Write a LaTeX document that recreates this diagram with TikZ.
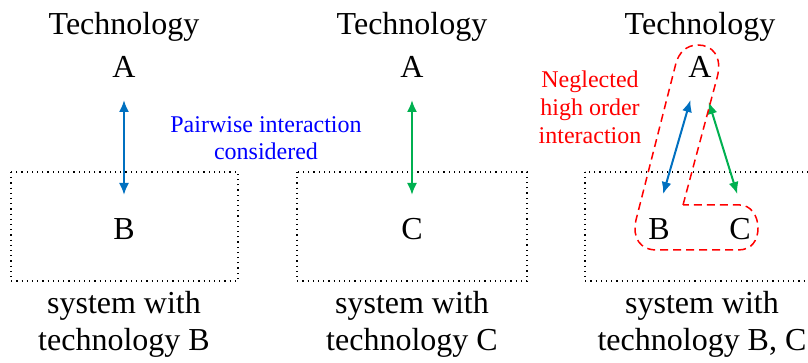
\documentclass[tikz,border=0pt]{standalone}
\usepackage{fontspec}
\setmainfont{Liberation Serif}
\usepackage{tikz}
\usepackage{xcolor}
\usetikzlibrary{arrows.meta, positioning}
\definecolor{linkblue}{HTML}{0070C0}
\definecolor{linkgreen}{HTML}{00B050}

\begin{document}
\begin{tikzpicture}[x=0.5pt, y=-0.5pt,
    big/.style={font=\fontsize{16}{18.5}\selectfont, inner sep=0pt, align=center},
    note/.style={font=\fontsize{12}{13.5}\selectfont, inner sep=0pt, align=center},
    sysbox/.style={draw, dotted, line width=0.6pt},
    link/.style={{Latex[length=6pt,width=5pt]}-{Latex[length=6pt,width=5pt]}, line width=1pt},
    neglect/.style={draw=red, dash pattern=on 4pt off 2.5pt, line width=0.75pt}]
\useasboundingbox (0,0) rectangle (808,363);
\clip (0,0) rectangle (808,363);
%
\draw[sysbox] (11,172) rectangle (238,281);
\draw[sysbox] (297,172) rectangle (527,281);
\draw[sysbox] (585,172) rectangle (840,281);
%
\node[big] (tech1) at (124,27) {Technology};
\node[big] (a1)    at (124,67) {A};
\node[big] (b1)    at (124,229) {B};
\node[big] (sys1)  at (124,324) {system with\\technology B};

\node[big] (tech2) at (412,27) {Technology};
\node[big] (a2)    at (412,67) {A};
\node[big] (c2)    at (412,229) {C};
\node[big] (sys2)  at (412,324) {system with\\technology C};

\node[big] (tech3) at (700,27) {Technology};
\node[big] (a3)    at (700,67) {A};
\node[big] (b3)    at (659,229) {B};
\node[big] (c3)    at (740,229) {C};
\node[big] (sys3)  at (702,324) {system with\\technology B, C};
%
\node[note, text=blue] (pairwise) at (266,138) {Pairwise interaction\\considered};
\node[note, text=red, font=\fontsize{12}{14}\selectfont] (neglected) at (590,107) {Neglected\\high order\\interaction};
%
\draw[link, color=linkblue, shorten <=16.5pt, shorten >=17pt] (a1.center) -- (b1.center);
\draw[link, color=linkgreen, shorten <=16.5pt, shorten >=17pt] (a2.center) -- (c2.center);
\draw[link, color=linkblue, shorten <=17.2pt, shorten >=18.2pt] (a3.center) -- ([xshift=-3pt]b3.center);
\draw[link, color=linkgreen, shorten <=18.3pt, shorten >=18.3pt] ([xshift=-1pt]a3.center) -- ([xshift=4pt]c3.center);
%
\draw[neglect] (683,205) -- (717,78)
    .. controls (723,56) and (712,45) .. (698,45)
    .. controls (686,45) and (679,53) .. (676,63)
    -- (636,220)
    .. controls (632,238) and (640,250) .. (657,250)
    -- (738,250)
    .. controls (752,250) and (758,240) .. (758,228)
    .. controls (758,215) and (750,205) .. (740,205)
    -- cycle;
\end{tikzpicture}
\end{document}
